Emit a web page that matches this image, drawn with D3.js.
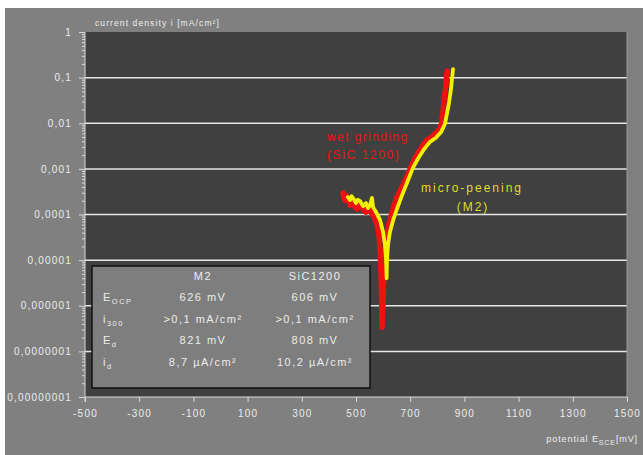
<!DOCTYPE html>
<html>
<head>
<meta charset="utf-8">
<script src="https://cdn.jsdelivr.net/npm/d3@7"></script>
<style>
body { margin: 0; background: #fff; }
text { font-family: "Liberation Sans", Arial, sans-serif; }
</style>
</head>
<body>
<div id="container"></div>
<script>
// potential E (mV) / current density i (mA/cm²)
const sicCurve = [
    [452, 2.95e-4], [456, 2.3e-4], [459, 2.07e-4], [464, 2.6e-4], [470, 2.41e-4], [474, 1.9e-4],
    [478, 1.61e-4], [485, 1.95e-4], [493, 1.78e-4], [498, 1.4e-4], [504, 1.32e-4], [512, 1.6e-4],
    [522, 1.45e-4], [530, 1.2e-4], [537, 1.13e-4], [545, 1.3e-4], [552, 1.19e-4], [560, 1.0e-4],
    [566, 9.2e-5], [577, 6.2e-5], [585, 3.5e-5], [589, 1.66e-5], [592, 6.0e-6], [594, 2.2e-6],
    [595, 8e-7], [596, 3.4e-7], [600, 1.3e-6], [603, 6e-6], [607, 1.66e-5], [618, 5e-5],
    [633, 1.13e-4], [651, 2.41e-4], [670, 4.0e-4], [692, 7.7e-4], [714, 1.56e-3], [736, 2.6e-3],
    [758, 4.1e-3], [784, 5.25e-3], [806, 7.1e-3], [817, 0.0101], [821, 0.0176], [825, 0.032],
    [832, 0.069], [836, 0.14]
];
const m2Curve = [
    [470, 2.41e-4], [478, 2.07e-4], [484, 2.5e-4], [489, 2.29e-4], [500, 1.78e-4], [507, 2.1e-4],
    [515, 1.97e-4], [526, 1.53e-4], [537, 1.78e-4], [544, 1.38e-4], [552, 1.61e-4], [559, 2.3e-4],
    [563, 1.45e-4], [574, 1.13e-4], [589, 7.5e-5], [600, 4.1e-5], [607, 2.13e-5], [611, 1.0e-5],
    [613, 4.0e-6], [614, 9.1e-6], [618, 2.13e-5], [625, 4.1e-5], [637, 7.5e-5], [651, 1.32e-4],
    [670, 2.66e-4], [688, 4.9e-4], [710, 1.05e-3], [732, 1.8e-3], [751, 2.7e-3], [773, 3.9e-3],
    [795, 4.8e-3], [814, 6.4e-3], [828, 9.6e-3], [836, 0.0167], [843, 0.0277], [851, 0.059],
    [858, 0.154]
];

const xTicks = [-500, -300, -100, 100, 300, 500, 700, 900, 1100, 1300, 1500];
const xTickLabels = ["-500", "-300", "-100", "100", "300", "500", "700", "900", "1100", "1300", "1500"];
const yTicks = [1, 0.1, 0.01, 0.001, 1e-4, 1e-5, 1e-6, 1e-7, 1e-8];
const yTickLabels = ["1", "0,1", "0,01", "0,001", "0,0001", "0,00001", "0,000001", "0,0000001", "0,00000001"];

// inset table
const tableHeads = ["M2", "SiC1200"];
const rowLabels = [["E", "OCP"], ["i", "300"], ["E", "d"], ["i", "d"]];
const m2Values = ["626 mV", ">0,1 mA/cm²", "821 mV", "8,7 µA/cm²"];
const sicValues = ["606 mV", ">0,1 mA/cm²", "808 mV", "10,2 µA/cm²"];

const width = 643, height = 455;
const plot = {left: 85, right: 627, top: 32, bottom: 397};

const svg = d3.select('#container')
    .append('svg')
    .attr('width', width)
    .attr('height', height);

// grauer Hintergrund + dunkle Plotfläche
svg.append('rect')
    .attr('x', 5).attr('y', 8)
    .attr('width', width - 5).attr('height', height - 8)
    .attr('fill', '#808080');

svg.append('rect')
    .attr('x', plot.left).attr('y', plot.top)
    .attr('width', plot.right - plot.left).attr('height', plot.bottom - plot.top)
    .attr('fill', '#404040');

const x = d3.scaleLinear().domain([-500, 1500]).range([plot.left, plot.right]);
const y = d3.scaleLog().domain([1e-8, 1]).range([plot.bottom, plot.top]);

// Gitterlinien
svg.append('g')
    .selectAll('line')
    .data(yTicks.slice(1, -1))
    .enter()
    .append('line')
    .attr('x1', plot.left).attr('x2', plot.right)
    .attr('y1', d => y(d)).attr('y2', d => y(d))
    .attr('stroke', '#e6e6e6')
    .attr('stroke-width', 1.5);

// rechte Kante
svg.append('line')
    .attr('x1', plot.right).attr('x2', plot.right)
    .attr('y1', plot.top).attr('y2', plot.bottom)
    .attr('stroke', '#9a9a9a');

// y-Achse: kleine Striche
const minor = y.ticks().filter(d => !yTicks.includes(d));
const yMinor = svg.append('g')
    .attr('transform', `translate(${plot.left},0)`)
    .call(d3.axisLeft(y).tickValues(minor).tickSize(3).tickFormat(''));
yMinor.select('.domain').remove();
yMinor.selectAll('line').attr('stroke', '#d8d8d8');

const yAxis = svg.append('g')
    .attr('transform', `translate(${plot.left},0)`)
    .call(d3.axisLeft(y).tickValues(yTicks).tickSize(6).tickPadding(7)
        .tickFormat((d, i) => yTickLabels[i]));
yAxis.select('.domain').attr('stroke', '#d8d8d8').attr('d', `M0,${plot.top}V${plot.bottom + 5}`);
yAxis.selectAll('line').attr('stroke', '#d8d8d8');
yAxis.selectAll('text')
    .attr('fill', '#ececec')
    .attr('font-size', 10)
    .attr('letter-spacing', 1.2);

const xAxis = svg.append('g')
    .attr('transform', `translate(0,${plot.bottom})`)
    .call(d3.axisBottom(x).tickValues(xTicks).tickSize(5).tickPadding(8)
        .tickFormat((d, i) => xTickLabels[i]));
xAxis.select('.domain').attr('stroke', '#d8d8d8').attr('d', `M${plot.left},0H${plot.right}`);
xAxis.selectAll('line').attr('stroke', '#d8d8d8');
xAxis.selectAll('text')
    .attr('fill', '#ececec')
    .attr('font-size', 10)
    .attr('letter-spacing', 1.2);

// Achsentitel
svg.append('text')
    .attr('x', 95).attr('y', 26)
    .attr('font-size', 8.5)
    .attr('letter-spacing', 1.1)
    .attr('fill', '#eeeeee')
    .text('current density i [mA/cm²]');

const xTitle = svg.append('text')
    .attr('x', 638).attr('y', 442)
    .attr('text-anchor', 'end')
    .attr('font-size', 9)
    .attr('letter-spacing', 0.9)
    .attr('fill', '#eeeeee');
xTitle.append('tspan').text('potential E');
xTitle.append('tspan').attr('font-size', 7).attr('dy', 3).text('SCE');
xTitle.append('tspan').attr('dy', -3).text('[mV]');

// Inset-Tabelle
const box = {x: 92, y: 266, w: 278, h: 122};
svg.append('rect')
    .attr('x', box.x).attr('y', box.y)
    .attr('width', box.w).attr('height', box.h)
    .attr('fill', '#7e7e7e')
    .attr('stroke', '#111')
    .attr('stroke-width', 1.5);

const colX = [203, 315];
const rowY = d3.range(rowLabels.length).map(i => 301 + i * 21.6);
const tStyle = sel => sel.attr('font-size', 11).attr('letter-spacing', 1.5).attr('fill', '#ececec');

svg.append('g').selectAll('text')
    .data(tableHeads)
    .enter().append('text')
    .attr('x', (d, i) => colX[i]).attr('y', 280)
    .attr('text-anchor', 'middle')
    .call(tStyle)
    .text(d => d);

rowLabels.forEach((lab, i) => {
    const t = svg.append('text')
        .attr('x', 103).attr('y', rowY[i])
        .call(tStyle);
    t.append('tspan').text(lab[0]);
    t.append('tspan').attr('font-size', 7.5).attr('dy', 3).text(lab[1]);

    svg.append('text')
        .attr('x', colX[0]).attr('y', rowY[i])
        .attr('text-anchor', 'middle')
        .call(tStyle)
        .text(m2Values[i]);
    svg.append('text')
        .attr('x', colX[1]).attr('y', rowY[i])
        .attr('text-anchor', 'middle')
        .call(tStyle)
        .text(sicValues[i]);
});

// Kurven
const line = d3.line()
    .x(d => x(d[0]))
    .y(d => y(d[1]));

svg.append('path')
    .datum(sicCurve)
    .attr('d', line)
    .attr('fill', 'none')
    .attr('stroke', '#ee1111')
    .attr('stroke-width', 5.5)
    .attr('stroke-linejoin', 'round')
    .attr('stroke-linecap', 'round');

svg.append('path')
    .datum(m2Curve)
    .attr('d', line)
    .attr('fill', 'none')
    .attr('stroke', '#f2f200')
    .attr('stroke-width', 3.8)
    .attr('stroke-linejoin', 'round')
    .attr('stroke-linecap', 'round');

// Kurvenbeschriftung
svg.append('text')
    .attr('x', 327).attr('y', 141)
    .attr('font-size', 12).attr('letter-spacing', 1.4)
    .attr('fill', '#ee1111')
    .text('wet grinding');
svg.append('text')
    .attr('x', 327).attr('y', 159)
    .attr('font-size', 12).attr('letter-spacing', 1.6)
    .attr('fill', '#ee1111')
    .text('(SiC 1200)');

svg.append('text')
    .attr('x', 421).attr('y', 192)
    .attr('font-size', 12).attr('letter-spacing', 2)
    .attr('fill', '#dede2a')
    .text('micro-peening');
svg.append('text')
    .attr('x', 473).attr('y', 211)
    .attr('text-anchor', 'middle')
    .attr('font-size', 12).attr('letter-spacing', 2)
    .attr('fill', '#dede2a')
    .text('(M2)');
</script>
</body>
</html>
